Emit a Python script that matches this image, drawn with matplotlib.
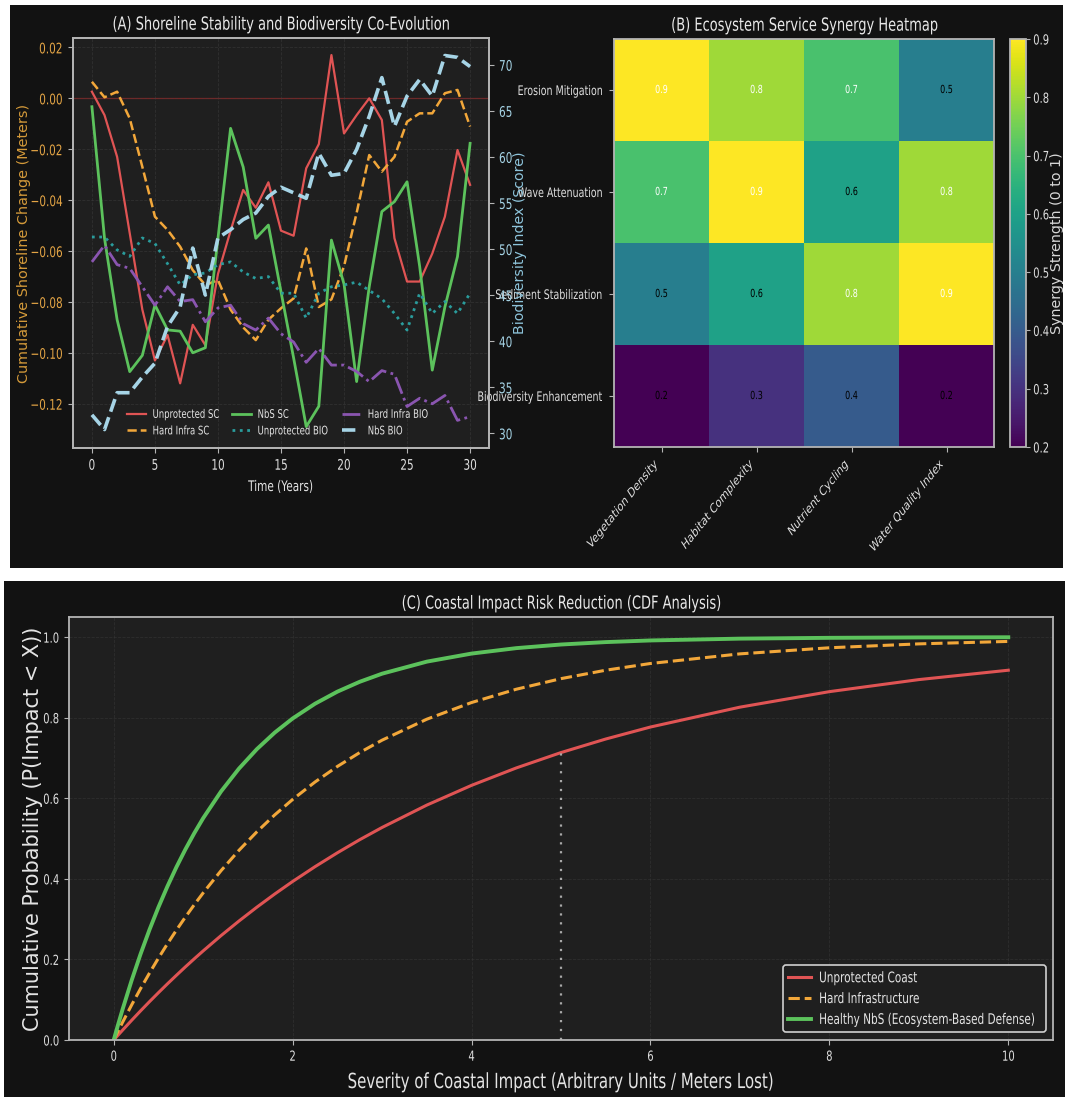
import matplotlib
matplotlib.use('Agg')
import matplotlib.pyplot as plt
from matplotlib.patches import Rectangle
from matplotlib.patheffects import AbstractPathEffect
from matplotlib.transforms import Affine2D

W, H = 1065, 1097
SX = 0.72  # horizontal squeeze for the narrow-looking text

# ---- (A) shoreline change (m) and biodiversity score per year ----
years = list(range(31))
unprot_sc = [0.0026, -0.0066, -0.023, -0.053, -0.083, -0.103, -0.093, -0.112, -0.089, -0.097,
             -0.069, -0.052, -0.036, -0.043, -0.033, -0.052, -0.054, -0.0275, -0.018, 0.017,
             -0.0138, -0.0066, 0.000, -0.0085, -0.055, -0.072, -0.072, -0.061, -0.0465, -0.0203, -0.034]
hard_sc = [0.0065, 0.0004, 0.0026, -0.0079, -0.0269, -0.0465, -0.0517, -0.0583, -0.0675, -0.0734,
           -0.0714, -0.083, -0.090, -0.095, -0.087, -0.0825, -0.0786, -0.059, -0.082, -0.079,
           -0.066, -0.045, -0.0223, -0.0288, -0.023, -0.0092, -0.0059, -0.0059, 0.002, 0.0033, -0.0111]
nbs_sc = [-0.0033, -0.055, -0.087, -0.1074, -0.101, -0.0812, -0.091, -0.0915, -0.100, -0.098,
          -0.055, -0.0118, -0.027, -0.055, -0.0498, -0.076, -0.102, -0.129, -0.121, -0.0557,
          -0.073, -0.1113, -0.074, -0.0445, -0.0406, -0.0328, -0.066, -0.1068, -0.082, -0.0622, -0.0177]
unprot_bio = [51.3, 51.3, 49.9, 49.2, 51.2, 50.6, 48.4, 46.1, 47.2, 47.4, 48.3, 48.6, 47.5, 46.8, 47.0,
              45.2, 45.2, 42.5, 45.2, 45.9, 46.1, 46.4, 45.5, 44.6, 43.0, 41.2, 45.2, 43.0, 44.3, 43.0, 45.2]
hard_bio = [48.6, 50.4, 48.3, 47.9, 45.9, 43.9, 45.9, 44.3, 44.5, 42.1, 43.6, 43.9, 41.9, 41.2, 42.5,
            40.8, 39.9, 37.7, 39.2, 37.4, 37.4, 36.7, 35.6, 36.8, 36.4, 32.9, 33.8, 33.2, 34.1, 31.4, 31.8]
nbs_bio = [32.0, 30.4, 34.4, 34.4, 36.1, 37.6, 41.6, 43.7, 50.1, 45.0, 51.2, 52.1, 53.2, 53.9, 55.7,
           56.7, 56.1, 55.5, 60.4, 58.0, 58.2, 60.8, 64.4, 68.6, 63.3, 66.6, 68.4, 66.6, 71.0, 70.8, 69.8]

# ---- (B) synergy matrix ----
services = ['Erosion Mitigation', 'Wave Attenuation', 'Sediment Stabilization', 'Biodiversity Enhancement']
indicators = ['Vegetation Density', 'Habitat Complexity', 'Nutrient Cycling', 'Water Quality Index']
synergy = [[0.9, 0.8, 0.7, 0.5],
           [0.7, 0.9, 0.6, 0.8],
           [0.5, 0.6, 0.8, 0.9],
           [0.2, 0.3, 0.4, 0.2]]

# ---- (C) impact CDFs ----
severity = [0, 0.05, 0.1, 0.2, 0.3, 0.4, 0.5, 0.6, 0.7, 0.8, 0.9, 1.0, 1.2, 1.4, 1.6, 1.8,
            2.0, 2.25, 2.5, 2.75, 3.0, 3.5, 4.0, 4.5, 5.0, 5.5, 6.0, 7.0, 8.0, 9.0, 10.0]
cdf_unprot = [0, 0.0124, 0.0247, 0.0488, 0.0723, 0.0952, 0.1175, 0.1393, 0.1605, 0.1813, 0.2015,
              0.2212, 0.2592, 0.2953, 0.3297, 0.3624, 0.3935, 0.4302, 0.4647, 0.4972, 0.5276,
              0.5831, 0.6321, 0.6753, 0.7135, 0.7471, 0.7769, 0.8262, 0.8647, 0.8946, 0.9179]
cdf_hard = [0, 0.0225, 0.0444, 0.0869, 0.1275, 0.1662, 0.2033, 0.2387, 0.2725, 0.3048, 0.3357,
            0.3652, 0.4204, 0.4708, 0.5168, 0.5588, 0.5971, 0.6404, 0.679, 0.7135, 0.7443,
            0.7963, 0.8377, 0.8707, 0.897, 0.9179, 0.9346, 0.9585, 0.9736, 0.9833, 0.9894]
cdf_nbs = [0, 0.0392, 0.0769, 0.1479, 0.2134, 0.2739, 0.3297, 0.3812, 0.4288, 0.4727, 0.5132,
           0.5507, 0.6171, 0.6737, 0.722, 0.7631, 0.7981, 0.8347, 0.8647, 0.8892, 0.9093,
           0.9392, 0.9592, 0.9727, 0.9817, 0.9877, 0.9918, 0.9963, 0.9983, 0.9993, 0.9997]

BG = '#121212'
FACE = '#1f1f1f'
RED = '#e05454'
ORANGE = '#f2a73a'
GREEN = '#5cc25c'
TEAL = '#2a9c9c'
PURPLE = '#8a55b0'
LBLUE = '#a6d4e6'


class Squish(AbstractPathEffect):
    """squeeze glyphs horizontally around their alignment edge"""
    def __init__(self, sx=SX, ha='center'):
        super().__init__()
        self.sx = sx
        self.ha = ha

    def draw_path(self, renderer, gc, tpath, affine, rgbFace=None):
        ext = tpath.get_extents(affine)
        if self.ha == 'left':
            px = ext.x0
        elif self.ha == 'right':
            px = ext.x1
        else:
            px = 0.5 * (ext.x0 + ext.x1)
        sq = Affine2D().translate(-px, 0).scale(self.sx, 1).translate(px, 0)
        renderer.draw_path(gc, tpath, affine + sq, rgbFace)


def narrow(texts, sx=SX):
    for t in texts:
        t.set_path_effects([Squish(sx, t.get_ha())])


def box(x0, y0, x1, y1):
    # pixel box, origin top-left -> figure fraction
    return [x0 / W, 1 - y1 / H, (x1 - x0) / W, (y1 - y0) / H]


plt.rcParams.update({
    'font.family': 'DejaVu Sans',
    'axes.facecolor': FACE,
    'axes.edgecolor': '#b4b4b4',
    'axes.linewidth': 1.3,
    'axes.labelcolor': '#e4e4e4',
    'text.color': '#e4e4e4',
    'xtick.color': '#b4b4b4',
    'ytick.color': '#b4b4b4',
    'xtick.labelcolor': '#dedede',
    'ytick.labelcolor': '#dedede',
})

fig = plt.figure(figsize=(W / 100, H / 100), dpi=100, facecolor='white')
for b in [(10, 5, 1063, 568), (4, 581, 1065, 1097)]:
    r = box(*b)
    fig.add_artist(Rectangle((r[0], r[1]), r[2], r[3], transform=fig.transFigure,
                             facecolor=BG, edgecolor='none', zorder=-1))

axA = fig.add_axes(box(73, 38, 489, 448))
axB = fig.add_axes(box(614, 39, 994, 447))
cax = fig.add_axes(box(1010, 39, 1026, 447))
axC = fig.add_axes(box(69, 617, 1053, 1040))

# ---------------- A ----------------
axA.axhline(0, color='#7a2222', lw=0.9, zorder=1)
axA.plot(years, unprot_sc, color=RED, lw=1.6, label='Unprotected SC')
axA.plot(years, hard_sc, color=ORANGE, lw=1.8, ls='--', label='Hard Infra SC')
axA.plot(years, nbs_sc, color=GREEN, lw=2.0, label='NbS SC')
axA.set_xlim(-1.5, 31.5)
axA.set_ylim(-0.1374, 0.0237)
axA.set_xticks(range(0, 31, 5))
axA.set_yticks([-0.12, -0.10, -0.08, -0.06, -0.04, -0.02, 0.00, 0.02])
axA.grid(True, ls='--', lw=0.6, color='#444444', alpha=0.45)
axA.tick_params(labelsize=10.5)
axA.tick_params(axis='y', labelcolor='#e3a445')
axA.set_xlabel('Time (Years)', fontsize=10.5)
axA.set_ylabel('Cumulative Shoreline Change (Meters)', fontsize=10.4, color='#d49a3a')
axA.xaxis.set_label_coords(0.5, -0.0756)
axA.yaxis.set_label_coords(-0.1017, 0.5)
axA.set_title('(A) Shoreline Stability and Biodiversity Co-Evolution', fontsize=13, color='#e8e8e8')

ax2 = axA.twinx()
ax2.plot(years, unprot_bio, color=TEAL, lw=2.0, ls=':', label='Unprotected BIO')
ax2.plot(years, hard_bio, color=PURPLE, lw=2.0, ls='-.', label='Hard Infra BIO')
ax2.plot(years, nbs_bio, color=LBLUE, lw=2.6, ls='--', label='NbS BIO')
ax2.set_ylim(28.4, 72.9)
ax2.set_yticks(range(30, 71, 5))
ax2.tick_params(labelsize=10.5, labelcolor=LBLUE)
ax2.set_ylabel('Biodiversity Index (Score)', fontsize=10.2, color='#8ec5dc')
ax2.yaxis.set_label_coords(1.0565, 0.5)

handles = axA.get_lines()[1:] + ax2.get_lines()
legA = ax2.legend(handles=handles, loc='lower left', bbox_to_anchor=(0.104, 0), ncol=3,
                  fontsize=8.5, frameon=False, handlelength=1.6, handletextpad=0.55,
                  columnspacing=-1.1, labelspacing=0.3, borderaxespad=0.5)

# ---------------- B ----------------
im = axB.imshow(synergy, cmap='viridis', aspect='auto')
axB.set_xticks(range(len(indicators)), indicators, rotation=42, ha='right')
axB.set_yticks(range(len(services)), services)
axB.tick_params(labelsize=9.5)
for i, row in enumerate(synergy):
    for j, v in enumerate(row):
        axB.text(j, i, f'{v:.1f}', ha='center', va='center', fontsize=8,
                 color='white' if v > 0.65 else 'black')
axB.set_title('(B) Ecosystem Service Synergy Heatmap', fontsize=13, color='#e8e8e8')

cb = fig.colorbar(im, cax=cax)
cb.outline.set_edgecolor('#b4b4b4')
cb.ax.tick_params(labelsize=10, length=3, pad=2)
cb.set_label('Synergy Strength (0 to 1)', fontsize=10.3, color='#d8d8d8')
cb.ax.yaxis.set_label_coords(2.53, 0.5)

# ---------------- C ----------------
axC.plot(severity, cdf_unprot, color=RED, lw=2.2, label='Unprotected Coast')
axC.plot(severity, cdf_hard, color=ORANGE, lw=2.2, ls='--', label='Hard Infrastructure')
axC.plot(severity, cdf_nbs, color=GREEN, lw=2.8, label='Healthy NbS (Ecosystem-Based Defense)')
axC.vlines(5, 0, cdf_unprot[severity.index(5.0)], colors='#a8a8a8', linestyles=(0, (1, 3)), lw=1.6)
axC.set_xlim(-0.5, 10.5)
axC.set_ylim(0, 1.05)
axC.set_xticks(range(0, 11, 2))
axC.set_yticks([0.0, 0.2, 0.4, 0.6, 0.8, 1.0])
axC.grid(True, ls='--', lw=0.6, color='#383838', alpha=0.6)
axC.tick_params(labelsize=10)
axC.set_xlabel('Severity of Coastal Impact (Arbitrary Units / Meters Lost)', fontsize=15)
axC.set_ylabel('Cumulative Probability (P(Impact < X))', fontsize=15)
axC.xaxis.set_label_coords(0.5, -0.0757)
axC.yaxis.set_label_coords(-0.0264, 0.5)
axC.set_title('(C) Coastal Impact Risk Reduction (CDF Analysis)', fontsize=13, color='#e8e8e8')
legC = axC.legend(loc='lower right', bbox_to_anchor=(0.7256, 0.0189, 0.2673, 0), mode='expand',
                  borderaxespad=0, fontsize=10.5, handlelength=1.6, handletextpad=0.5,
                  borderpad=0.35, labelspacing=0.4, facecolor=FACE, edgecolor='#d0d0d0',
                  framealpha=1)
legC.get_frame().set_linewidth(1.2)

narrow([axA.title, axA.xaxis.label, axB.title, axC.title, axC.xaxis.label])
narrow(axA.get_xticklabels() + axA.get_yticklabels() + ax2.get_yticklabels())
narrow(axB.get_xticklabels() + axB.get_yticklabels() + axB.texts)
narrow(cax.get_yticklabels())
narrow(axC.get_xticklabels() + axC.get_yticklabels())
narrow(legA.get_texts() + legC.get_texts())

fig.savefig('out.png', dpi=100, facecolor=fig.get_facecolor())
